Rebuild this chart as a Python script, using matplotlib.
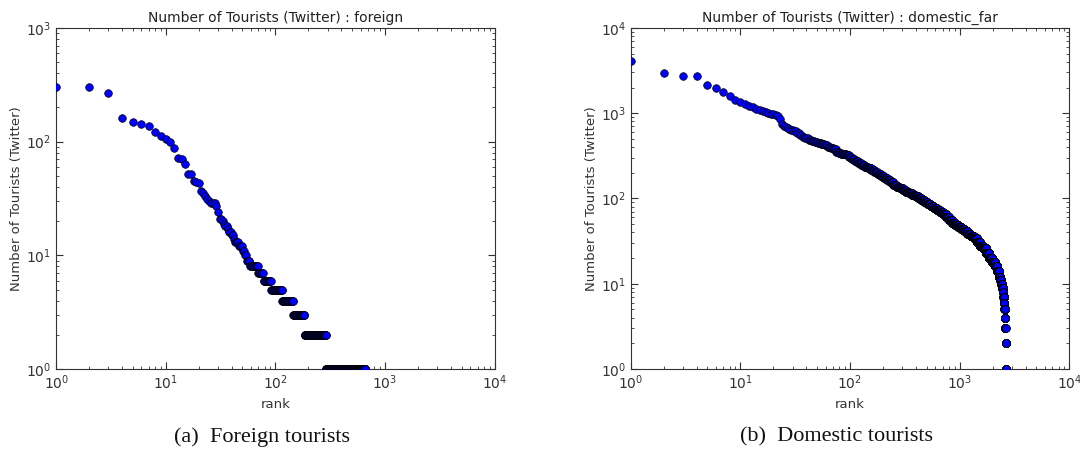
import numpy as np
import matplotlib
matplotlib.use('Agg')
import matplotlib.pyplot as plt

# foreign: counts for the first ranks, then runs of equal counts (last rank of each run)
foreign_head = [300, 300, 270, 162, 149, 143, 137, 121, 111, 106, 99, 87, 72, 70, 63,
                52, 52, 45, 44, 43, 37, 35, 33, 31, 30, 29, 29, 29, 27, 24,
                21, 21, 20, 19, 18, 18, 17, 16, 16, 15, 15, 14, 13, 13, 13,
                13, 12, 12, 12, 12, 11, 11, 10, 10, 9, 9, 9, 9]
foreign_run_value = [8, 7, 6, 5, 4, 3, 2, 1]
foreign_run_end = [69, 77, 91, 115, 145, 184, 288, 660]

# domestic_far
domestic_head = [4050, 2930, 2750, 2720, 2120, 1950, 1750, 1590, 1430, 1345, 1290, 1220,
                 1170, 1120, 1080, 1050, 1030, 1010, 990, 965, 940, 915, 850, 740, 700,
                 690, 670, 650]
domestic_run_end = [30, 32, 34, 36, 38, 41, 44, 47, 50, 54, 58, 62, 66, 70, 74, 78, 82,
                    87, 92, 97, 103, 110, 118, 126, 135, 145, 155, 166, 178, 190, 203,
                    217, 232, 248, 265, 283, 302, 322, 344, 367, 392, 418, 446, 476,
                    508, 542, 578, 617, 658, 702, 749, 799, 852, 909, 970, 1035, 1104,
                    1178, 1257, 1341, 1431, 1527, 1629, 1738, 1854, 1978, 2100, 2200,
                    2280, 2350, 2400, 2440, 2480, 2510, 2540, 2565, 2590, 2610, 2625,
                    2640, 2655]
domestic_run_value = [630, 610, 590, 560, 530, 510, 490, 475, 460, 445, 430, 420, 405,
                      390, 375, 355, 345, 335, 328, 320, 305, 290, 275, 262, 248, 235,
                      225, 214, 202, 192, 183, 175, 165, 155, 145, 138, 132, 126, 120,
                      115, 110, 106, 102, 97, 92, 87, 82, 78, 74, 70, 66, 60, 56, 52,
                      49, 46, 44, 41, 38, 36, 34, 31, 28, 26, 23, 20, 18, 16, 14, 12,
                      11, 10, 9, 8, 7, 6, 5, 4, 3, 2, 1]


def expand(head, run_end, run_value):
    counts = np.diff(np.concatenate([[len(head)], run_end]))
    vals = np.concatenate([head, np.repeat(run_value, counts)])
    return np.arange(1, len(vals) + 1), vals


panels = [
    ('foreign', foreign_head, foreign_run_end, foreign_run_value, 1e3, '(a)  Foreign tourists', 0.2425),
    ('domestic_far', domestic_head, domestic_run_end, domestic_run_value, 1e4, '(b)  Domestic tourists', 0.775),
]

fig = plt.figure(figsize=(10.8, 4.5), dpi=100)
boxes = [[0.052, 0.18, 0.406, 0.758], [0.584, 0.18, 0.406, 0.758]]

for box, (name, head, ends, vals, ytop, caption, cx) in zip(boxes, panels):
    ax = fig.add_axes(box)
    rank, count = expand(head, ends, vals)
    ax.scatter(rank, count, s=30, c='b', edgecolors='k', linewidths=0.5, zorder=3)
    ax.set_xscale('log')
    ax.set_yscale('log')
    ax.set_xlim(1, 1e4)
    ax.set_ylim(1, ytop)
    ax.set_title('Number of Tourists (Twitter) : ' + name, fontsize=10, color='#222222', pad=4)
    ax.set_xlabel('rank', fontsize=9.5, color='#333333', labelpad=4)
    ax.set_ylabel('Number of Tourists (Twitter)', fontsize=9.5, color='#333333', labelpad=2)
    ax.tick_params(which='both', direction='in', top=True, right=True, labelsize=10,
                   colors='#333333')
    ax.tick_params(which='major', length=5)
    ax.tick_params(which='minor', length=2.5)
    for sp in ax.spines.values():
        sp.set_color('#333333')
    fig.text(cx, 0.018, caption, ha='center', va='baseline', fontsize=16,
             family='Liberation Serif', color='#111111')

fig.savefig('out.png', dpi=100)
